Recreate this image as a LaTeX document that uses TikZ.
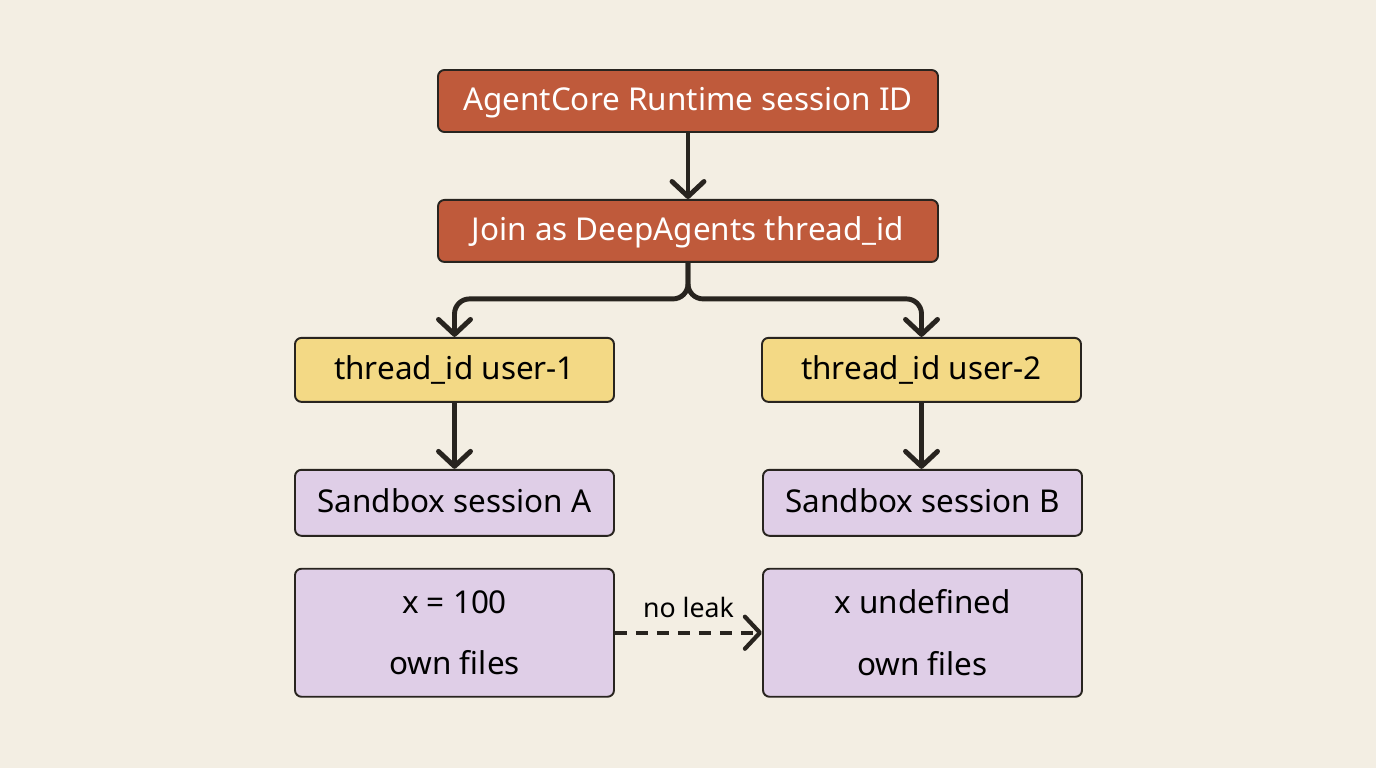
\documentclass[tikz,border=0pt]{standalone}
\usepackage{fontspec}
\setmainfont{Noto Sans}
\usetikzlibrary{arrows.meta,positioning}

\definecolor{bgcream}{HTML}{F3EEE3}
\definecolor{rustfill}{HTML}{BF5A3B}
\definecolor{sunfill}{HTML}{F3D985}
\definecolor{lilacfill}{HTML}{DFCEE7}
\definecolor{inkline}{HTML}{28241F}

\tikzset{
  box/.style={draw=inkline, line width=1.1pt, rounded corners=0.13cm,
    minimum width=6.38cm, inner sep=0pt, text depth=0.04em, text height=1.1em,
    font=\fontsize{17.9}{21}\selectfont},
  runbox/.style={box, fill=rustfill, text=white, minimum width=10cm, minimum height=1.24cm},
  threadbox/.style={box, fill=sunfill, text=black, minimum height=1.28cm},
  sandbox/.style={box, fill=lilacfill, text=black, minimum height=1.32cm},
  statebox/.style={box, fill=lilacfill, text=black, minimum height=2.56cm, align=center,
    text depth=, text height=},
  flow/.style={draw=inkline, line width=2.8pt, rounded corners=0.3cm,
    -{Straight Barb[length=0.3cm, width=0.64cm, line cap=round, round]}},
}

\begin{document}
\begin{tikzpicture}
  \fill[bgcream] (0,0) rectangle (27.52,-15.36);
  \useasboundingbox (0,0) rectangle (27.52,-15.36);

  \node[runbox] (runtime) at (13.76,-2.02) {AgentCore Runtime session ID};
  \node[runbox] (join) [below=1.32cm of runtime] {Join as DeepAgents thread\_id};
  \node[threadbox] (user1) [below=1.48cm of join, xshift=-4.67cm] {thread\_id user-1};
  \node[threadbox] (user2) [below=1.48cm of join, xshift=4.67cm] {thread\_id user-2};
  \node[sandbox] (sessA) [below=1.32cm of user1] {Sandbox session A};
  \node[sandbox] (sessB) [below=1.32cm of user2, xshift=0.02cm] {Sandbox session B};
  \node[statebox] (stateA) [below=0.62cm of sessA] {x = 100\\[0.5cm]own files};
  \node[statebox] (stateB) [below=0.62cm of sessB] {x undefined\\[0.5cm]own files};

  \draw[flow] (runtime) -- (join);
  \draw[flow] (join.south) -- ++(0,-0.72) -| (user1.north);
  \draw[flow] (join.south) -- ++(0,-0.72) -| (user2.north);
  \draw[flow] (user1) -- (sessA);
  \draw[flow] (user2.south) -- (user2.south |- sessB.north);
  \draw[flow, line width=2.4pt, dash pattern=on 0.24cm off 0.18cm]
    (stateA) -- node[above=0.14cm, text=black, font=\fontsize{15.2}{18}\selectfont] (leak) {no leak} (stateB);
\end{tikzpicture}
\end{document}
